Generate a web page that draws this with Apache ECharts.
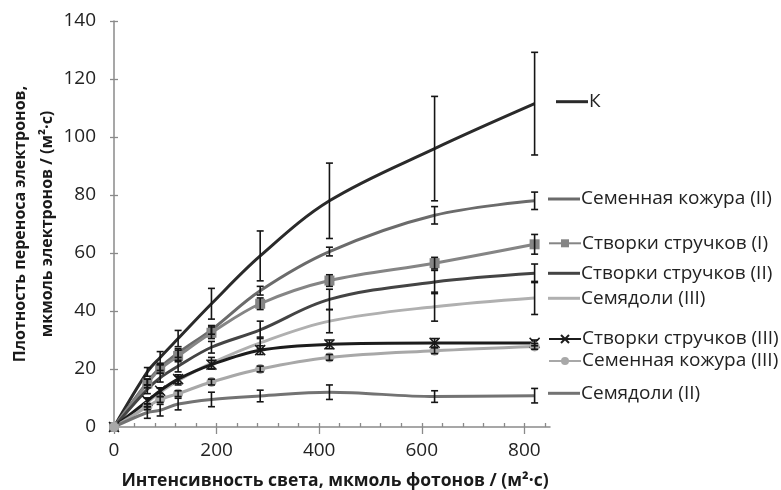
<!DOCTYPE html>
<html><head><meta charset="utf-8">
<script src="https://cdn.jsdelivr.net/npm/echarts@6/dist/echarts.min.js"></script>
<style>html,body{margin:0;padding:0;background:#fff}#c{width:781px;height:490px}</style>
</head><body><div id="c"></div>
<script>
// ---- data ----
const xs = [0, 65, 90, 125, 190, 285, 420, 625, 820];
const seriesNames = ['К', 'Семенная кожура (II)', 'Створки стручков (I)', 'Створки стручков (II)', 'Семядоли (III)', 'Створки стручков (III)', 'Семенная кожура (III)', 'Семядоли (II)'];
const vK      = [0, 19, 24, 30.5, 42.5, 59, 78, 96, 111.5];
const eK      = [0, 1.5, 2, 2.8, 5.3, 8.6, 13, 18, 17.7];
const vSK2    = [0, 15.5, 20.5, 25.5, 33.5, 47, 60.5, 73, 78];
const eSK2    = [0, 1, 1, 1.5, 1.5, 1.5, 1.5, 3, 3];
const vST1    = [0, 15, 20, 24.5, 32.5, 42.5, 50.5, 56.5, 63];
const eST1    = [0, 1.5, 1.5, 2, 2, 2, 2, 2, 3.4];
const vST2    = [0, 13, 17, 21, 27.5, 33.5, 44, 50, 53];
const eST2    = [0, 1.5, 1.5, 2, 2, 3, 3.5, 4, 3.2];
const vSEM3   = [0, 8.5, 12, 16, 22, 29, 36.5, 41.5, 44.5];
const eSEM3   = [0, 1.5, 1.5, 1.5, 2, 2, 4, 5, 5.7];
const vST3    = [0, 9, 12.5, 16.5, 21.5, 26.5, 28.5, 29, 29];
const eST3    = [0, 1, 1, 1.5, 1.5, 1.5, 1.5, 1.5, 1];
const vSK3    = [0, 7, 9.5, 11.5, 15.5, 20, 24, 26.3, 27.8];
const eSK3    = [0, 1, 1, 1, 1, 1, 1, 1, 1];
const vSEM2   = [0, 5, 5.8, 7.9, 9.5, 10.7, 12, 10.5, 10.8];
const eSEM2   = [0, 2, 2, 2, 2.5, 2, 2.5, 2, 2.5];
const xMajorTicks = [0, 200, 400, 600, 800];
const xMinorTicks = [0, 40, 80, 120, 160, 200, 240, 280, 320, 360, 400, 440, 480, 520, 560, 600, 640, 680, 720, 760, 800, 840];
const xTitle = 'Интенсивность света, мкмоль фотонов / (м²·с)';
const yTitle1 = 'Плотность переноса электронов,';
const yTitle2 = 'мкмоль электронов / (м²·с)';

// ---- styles ----
const FONT = 'Open Sans';
const styles = [
  {color: '#2a2a2a', width: 3, symbol: 'none'},
  {color: '#6b6b6b', width: 3, symbol: 'none'},
  {color: '#858585', width: 3, symbol: 'rect', size: 10},
  {color: '#444444', width: 3, symbol: 'none'},
  {color: '#b0b0b0', width: 3, symbol: 'none'},
  {color: '#1c1c1c', width: 3, symbol: 'path://M0,0L10,10M10,0L0,10', size: 10, cross: true},
  {color: '#a8a8a8', width: 3, symbol: 'circle', size: 10},
  {color: '#737373', width: 3, symbol: 'none'}
];
const vals = [vK, vSK2, vST1, vST2, vSEM3, vST3, vSK3, vSEM2];
const errs = [eK, eSK2, eST1, eST2, eSEM3, eST3, eSK3, eSEM2];

const series = [];
vals.forEach((v, i) => {
  const s = styles[i];
  const ser = {
    type: 'line', name: seriesNames[i], smooth: 0.35,
    data: xs.map((x, j) => [x, v[j]]),
    xAxisIndex: 0, yAxisIndex: 0,
    lineStyle: {color: s.color, width: s.width},
    itemStyle: {color: s.color},
    symbol: s.symbol, symbolSize: s.size || 0, showSymbol: s.symbol !== 'none',
    z: 3, silent: true, animation: false
  };
  if (s.cross) ser.itemStyle = {color: 'none', borderColor: s.color, borderWidth: 1.5};
  series.push(ser);
});
vals.forEach((v, i) => {
  series.push({
    type: 'custom', name: seriesNames[i] + ' err', xAxisIndex: 0, yAxisIndex: 0,
    encode: {x: 0, y: 1}, z: 4, silent: true, animation: false,
    data: xs.map((x, j) => [x, v[j], errs[i][j]]),
    renderItem: function (params, api) {
      const x = api.value(0), y = api.value(1), e = api.value(2);
      if (!e) return null;
      const t = api.coord([x, y + e]), b = api.coord([x, y - e]);
      const w = 3.5, st = {stroke: '#151515', lineWidth: 1.6};
      return {type: 'group', children: [
        {type: 'line', shape: {x1: t[0], y1: t[1], x2: b[0], y2: b[1]}, style: st},
        {type: 'line', shape: {x1: t[0] - w, y1: t[1], x2: t[0] + w, y2: t[1]}, style: st},
        {type: 'line', shape: {x1: b[0] - w, y1: b[1], x2: b[0] + w, y2: b[1]}, style: st}
      ]};
    }
  });
});

const legendPos = [
  {left: 556, cy: 101.7}, {left: 548, cy: 199}, {left: 548, cy: 243.3}, {left: 548, cy: 273.3},
  {left: 548, cy: 298.3}, {left: 548, cy: 339}, {left: 548, cy: 361}, {left: 548, cy: 393.3}
];
const legends = seriesNames.map((n, i) => {
  const plain = styles[i].symbol === 'none';
  return {
    data: [plain ? {name: n, icon: 'rect'} : n],
    left: legendPos[i].left, top: legendPos[i].cy - 11, orient: 'horizontal',
    padding: 0, itemWidth: 32, itemHeight: plain ? 3 : 10, selectedMode: false, itemGap: 0,
    textStyle: {fontFamily: FONT, fontSize: 19, color: '#222', lineHeight: 22, padding: [0, 0, 0, -4]}
  };
});

const axisColor = '#8a8a8a';
const option = {
  backgroundColor: '#fff',
  animation: false,
  grid: {left: 114, right: 231, top: 21, bottom: 63, containLabel: false, outerBoundsMode: 'none'},
  xAxis: [
    {type: 'value', min: 0, max: 850, position: 'bottom',
     axisLine: {show: true, lineStyle: {color: axisColor, width: 1.5}},
     axisTick: {show: true, inside: true, length: 4, customValues: xMinorTicks, lineStyle: {color: axisColor, width: 1.3}},
     axisLabel: {show: false}, splitLine: {show: false}},
    {type: 'value', min: 0, max: 850, position: 'bottom',
     axisLine: {show: false},
     axisTick: {show: true, inside: false, length: 7, customValues: xMajorTicks, lineStyle: {color: axisColor, width: 1.3}},
     axisLabel: {show: true, customValues: xMajorTicks, fontFamily: FONT, fontSize: 19, color: '#222', margin: 14},
     splitLine: {show: false}}
  ],
  yAxis: [
    {type: 'value', min: 0, max: 140, interval: 20, position: 'left',
     axisLine: {show: true, lineStyle: {color: axisColor, width: 1.5}},
     axisTick: {show: true, inside: false, length: 4, lineStyle: {color: axisColor, width: 1.3}},
     axisLabel: {fontFamily: FONT, fontSize: 19, color: '#222', margin: 18},
     splitLine: {show: false}},
    {type: 'value', min: 0, max: 140, interval: 20, position: 'left',
     axisLine: {show: false},
     axisTick: {show: true, inside: true, length: 4, lineStyle: {color: axisColor, width: 1.3}},
     axisLabel: {show: false}, splitLine: {show: false}}
  ],
  legend: legends,
  series: series,
  graphic: [
    {type: 'text', x: 335, y: 481, style: {text: xTitle, fontFamily: FONT, fontWeight: 'bold', fontSize: 17.5, fill: '#1a1a1a', align: 'center', verticalAlign: 'middle'}},
    {type: 'text', x: 20, y: 224, rotation: Math.PI / 2, style: {text: yTitle1, fontFamily: FONT, fontWeight: 'bold', fontSize: 16, fill: '#1a1a1a', align: 'center', verticalAlign: 'middle'}},
    {type: 'text', x: 47, y: 224, rotation: Math.PI / 2, style: {text: yTitle2, fontFamily: FONT, fontWeight: 'bold', fontSize: 16, fill: '#1a1a1a', align: 'center', verticalAlign: 'middle'}}
  ]
};
const chart = echarts.init(document.getElementById('c'), null, {renderer: 'canvas'});
chart.setOption(option);
</script>
</body></html>
